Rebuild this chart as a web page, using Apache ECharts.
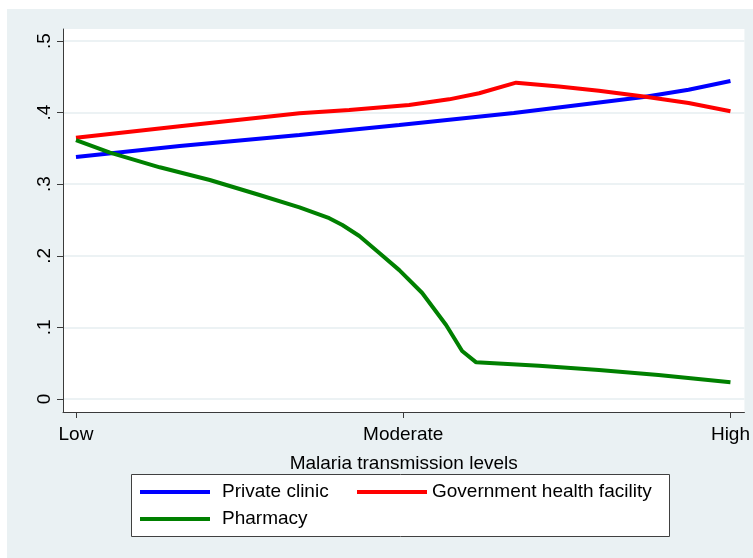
<!DOCTYPE html>
<html><head><meta charset="utf-8">
<script src="https://cdn.jsdelivr.net/npm/echarts@6/dist/echarts.min.js"></script>
<style>
html,body{margin:0;padding:0;background:#fff;width:753px;height:558px;overflow:hidden}
#c{position:absolute;left:7px;top:9px;width:746px;height:549px;background:#eaf1f3}
</style>
</head><body><div id="c"></div>
<script>
// ---- data ----
const xTickValues = [0, 1, 2];
const xTickLabels = ['Low', 'Moderate', 'High'];
const yTickValues = [0, 0.1, 0.2, 0.3, 0.4, 0.5];
const yTickLabels = ['0', '.1', '.2', '.3', '.4', '.5'];
const seriesNames = ['Private clinic', 'Government health facility', 'Pharmacy'];

const privateX = [0, 0.317, 0.683, 0.988, 1.338, 1.735, 1.872, 2.0];
const privateY = [0.338, 0.3534, 0.3687, 0.3827, 0.3994, 0.4218, 0.4320, 0.4441];

const govX = [0, 0.317, 0.683, 0.835, 1.018, 1.140, 1.232, 1.345, 1.476, 1.598, 1.735, 1.872, 2.0];
const govY = [0.365, 0.381, 0.399, 0.4036, 0.4106, 0.4185, 0.427, 0.4418, 0.4365, 0.4305, 0.4225, 0.4135, 0.402];

const pharmX = [0, 0.104, 0.256, 0.409, 0.561, 0.683, 0.774, 0.814, 0.866, 0.927, 0.988, 1.058, 1.131, 1.180, 1.223, 1.415, 1.598, 1.780, 2.0];
const pharmY = [0.3617, 0.344, 0.3236, 0.3059, 0.2849, 0.2677, 0.2525, 0.243, 0.2277, 0.2039, 0.180, 0.148, 0.1034, 0.067, 0.0512, 0.0466, 0.0405, 0.0335, 0.0233];

// ---- chart ----
const zip = (xs, ys) => xs.map((x, i) => [x, ys[i]]);
const font = '"Liberation Sans", Arial, Helvetica, sans-serif';
const axisColor = '#3a3a3a';
const txt = '#000';
const fs = 19;
const findIdx = (arr, v) => arr.findIndex(a => Math.abs(a - v) < 1e-9);

const chart = echarts.init(document.getElementById('c'), null, {renderer: 'canvas'});
chart.setOption({
  animation: false,
  textStyle: {fontFamily: font},
  grid: {left: 56, top: 20, right: 7, bottom: 146, show: true, backgroundColor: '#fff', borderWidth: 0},
  xAxis: {
    type: 'value', min: -0.03963, max: 2.04268,
    axisLine: {show: true, onZero: false, lineStyle: {color: axisColor, width: 1}},
    axisTick: {show: true, customValues: xTickValues, length: 6, lineStyle: {color: axisColor, width: 1}},
    axisLabel: {customValues: xTickValues, formatter: v => xTickLabels[findIdx(xTickValues, v)],
      fontSize: fs, color: txt, margin: 13, fontFamily: font},
    splitLine: {show: false},
    name: 'Malaria transmission levels', nameLocation: 'middle', nameGap: 42,
    nameTextStyle: {fontSize: fs, color: txt, fontFamily: font}
  },
  yAxis: {
    type: 'value', min: -0.01816, max: 0.51676,
    axisLine: {show: true, onZero: false, lineStyle: {color: axisColor, width: 1}},
    axisTick: {show: true, customValues: yTickValues, length: 6, lineStyle: {color: axisColor, width: 1}},
    axisLabel: {customValues: yTickValues, rotate: 90, formatter: v => yTickLabels[findIdx(yTickValues, v)],
      fontSize: fs, color: txt, margin: 9, fontFamily: font},
    splitLine: {show: true, lineStyle: {color: '#e6eef0', width: 1.5}}
  },
  graphic: [{
    type: 'rect', z: 1,
    shape: {x: 124.5, y: 465.5, width: 538, height: 62},
    style: {fill: '#fff', stroke: '#404040', lineWidth: 1}
  }],
  legend: [
    {data: [seriesNames[0], seriesNames[2]], orient: 'vertical', left: 133, top: 473.5, z: 5,
     itemWidth: 70, itemHeight: 4, itemGap: 8, icon: 'rect', selectedMode: false, padding: 0,
     textStyle: {fontSize: fs, lineHeight: 19, color: txt, fontFamily: font, padding: [0, 0, 0, 7]}},
    {data: [seriesNames[1]], orient: 'vertical', left: 350, top: 473.5, z: 5,
     itemWidth: 70, itemHeight: 4, icon: 'rect', selectedMode: false, padding: 0,
     textStyle: {fontSize: fs, lineHeight: 19, color: txt, fontFamily: font}}
  ],
  series: [
    {name: seriesNames[0], type: 'line', data: zip(privateX, privateY), showSymbol: false,
     color: '#0000ff', lineStyle: {color: '#0000ff', width: 4}},
    {name: seriesNames[1], type: 'line', data: zip(govX, govY), showSymbol: false,
     color: '#ff0000', lineStyle: {color: '#ff0000', width: 4}},
    {name: seriesNames[2], type: 'line', data: zip(pharmX, pharmY), showSymbol: false,
     color: '#008000', lineStyle: {color: '#008000', width: 4}}
  ]
});
</script>
</body></html>
